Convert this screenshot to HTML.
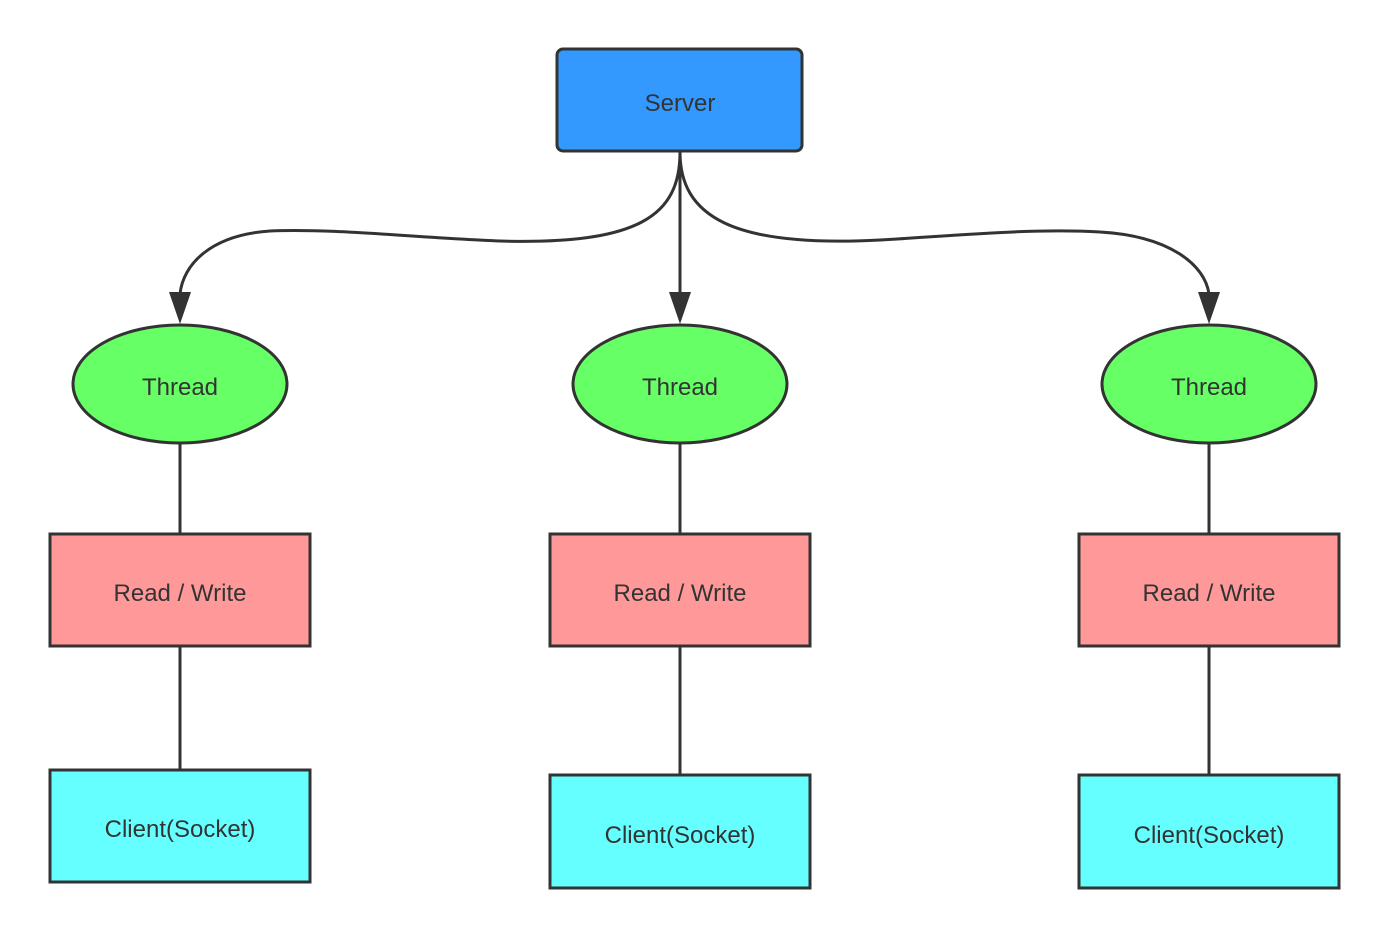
<!DOCTYPE html>
<html><head><style>body{margin:0;background:#fff}svg{display:block}</style></head><body>
<svg width="1389" height="938" xmlns="http://www.w3.org/2000/svg" font-family="'Liberation Sans', sans-serif" font-size="24" fill="#333">
<g stroke="#333" stroke-width="3" fill="none">
<path d="M680,152 C680,215 640,245 500,241 C420,238 330,228 270,231 C210,235 183,265 180,294"/>
<path d="M680,152 L680,294"/>
<path d="M680,152 C680,215 730,248 880,240 C950,236 1030,228 1100,232 C1170,236 1205,265 1209,294"/>
<path d="M180,443 V534 M180,646 V770 M680,443 V534 M680,646 V775 M1209,443 V534 M1209,646 V775"/>
</g>
<g fill="#333">
<polygon points="169,292 191,292 180,324"/>
<polygon points="669,292 691,292 680,324"/>
<polygon points="1198,292 1220,292 1209,324"/>
</g>
<g stroke="#333" stroke-width="3">
<rect x="557" y="49" width="245" height="102" rx="6" fill="#3399ff"/>
<ellipse cx="180" cy="384" rx="107" ry="59" fill="#66ff66"/>
<ellipse cx="680" cy="384" rx="107" ry="59" fill="#66ff66"/>
<ellipse cx="1209" cy="384" rx="107" ry="59" fill="#66ff66"/>
<rect x="50" y="534" width="260" height="112" fill="#ff9999"/>
<rect x="550" y="534" width="260" height="112" fill="#ff9999"/>
<rect x="1079" y="534" width="260" height="112" fill="#ff9999"/>
<rect x="50" y="770" width="260" height="112" fill="#66ffff"/>
<rect x="550" y="775" width="260" height="113" fill="#66ffff"/>
<rect x="1079" y="775" width="260" height="113" fill="#66ffff"/>
</g>
<g text-anchor="middle">
<text x="680" y="111">Server</text>
<text x="180" y="395">Thread</text>
<text x="680" y="395">Thread</text>
<text x="1209" y="395">Thread</text>
<text x="180" y="601">Read / Write</text>
<text x="680" y="601">Read / Write</text>
<text x="1209" y="601">Read / Write</text>
<text x="180" y="837">Client(Socket)</text>
<text x="680" y="843">Client(Socket)</text>
<text x="1209" y="843">Client(Socket)</text>
</g>
</svg>
</body></html>
